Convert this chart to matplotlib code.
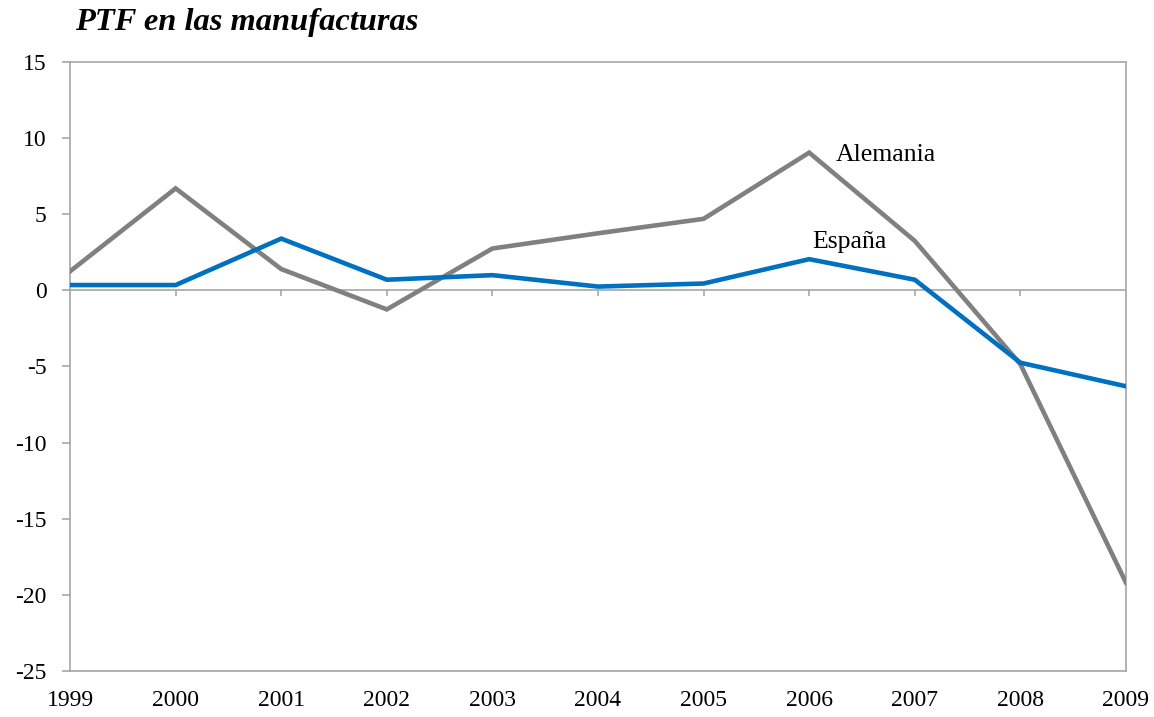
import matplotlib.pyplot as plt
import numpy as np

years = [1999, 2000, 2001, 2002, 2003, 2004, 2005, 2006, 2007, 2008, 2009]
espana = [0.35, 0.35, 3.4, 0.7, 1.0, 0.25, 0.45, 2.05, 0.7, -4.75, -6.3]
alemania = [1.25, 6.7, 1.4, -1.25, 2.75, 3.75, 4.7, 9.05, 3.25, -4.85, -19.2]
yticks = [-25, -20, -15, -10, -5, 0, 5, 10, 15]

plt.rcParams['font.family'] = ['Liberation Serif', 'DejaVu Serif']
plt.rcParams['axes.unicode_minus'] = False
frame_color = '#a6a6a6'

fig = plt.figure(figsize=(11.54, 7.17), dpi=100)
ax = fig.add_axes([0.0607, 0.0642, 0.915, 0.8493])

ax.plot(years, alemania, color='#808080', lw=3.3, solid_joinstyle='miter', zorder=3)
ax.plot(years, espana, color='#0070c0', lw=3.3, solid_joinstyle='miter', zorder=4)

# zero line with small downward ticks
ax.axhline(0, color=frame_color, lw=1.2, zorder=2)
ax.vlines(years[1:-1], -0.4, 0, color=frame_color, lw=1.2, zorder=2)

ax.set_xlim(years[0], years[-1])
ax.set_ylim(-25, 15)
ax.set_xticks(years)
ax.set_xticklabels([str(y) for y in years])
ax.set_yticks(yticks)
ax.tick_params(axis='x', length=0, labelsize=17, pad=14)
ax.tick_params(axis='y', length=6, width=1.2, color=frame_color, labelsize=17, pad=11)

for s in ax.spines.values():
    s.set_color(frame_color)
    s.set_linewidth(1.2)

ax.text(2006.25, 8.9, 'Alemania', fontsize=18.5, va='center', ha='left')
ax.text(2006.03, 3.2, 'España', fontsize=18.5, va='center', ha='left')

fig.text(0.065, 0.968, 'PTF en las manufacturas', fontsize=23.4, fontweight='bold',
         fontstyle='italic', va='center', ha='left')

fig.savefig('out.png', dpi=100)
